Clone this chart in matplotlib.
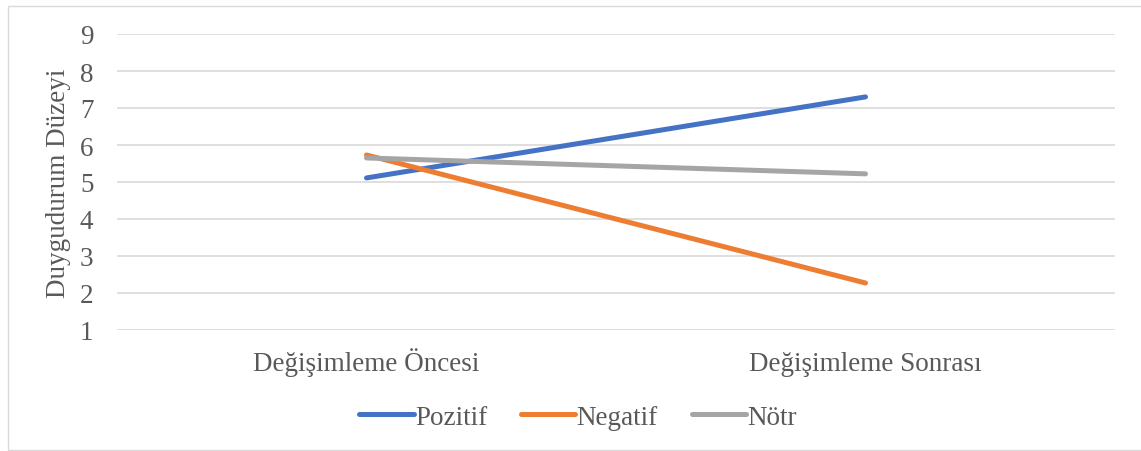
import matplotlib.pyplot as plt
from matplotlib.patches import Rectangle

plt.rcParams["font.family"] = ["Liberation Serif", "DejaVu Serif"]

categories = ["Değişimleme Öncesi", "Değişimleme Sonrası"]
pozitif = [5.11, 7.30]
negatif = [5.73, 2.27]
notr = [5.65, 5.22]
y_ticks = [1, 2, 3, 4, 5, 6, 7, 8, 9]

COLORS = {"Pozitif": "#4472C4", "Negatif": "#ED7D31", "Nötr": "#A5A5A5"}
TEXT = "#595959"
FS = 19.5

fig = plt.figure(figsize=(11.41, 4.52), dpi=100)
ax = fig.add_axes([117 / 1141, 1 - 331 / 452, (1115 - 117) / 1141, (331 - 35) / 452])

x = range(len(categories))
for name, vals in [("Pozitif", pozitif), ("Negatif", negatif), ("Nötr", notr)]:
    ax.plot(x, vals, color=COLORS[name], lw=3.6, solid_capstyle="round", label=name)

ax.set_xlim(-0.5, 1.5)
ax.set_ylim(1, 9)
ax.set_yticks(y_ticks)
ax.set_xticks(list(x))
ax.set_xticklabels(categories)
ax.tick_params(length=0, labelsize=FS, colors=TEXT)
ax.tick_params(axis="x", pad=29)
ax.tick_params(axis="y", pad=17)
# same baseline for both category labels (Ö is taller than S)
for lab in ax.get_xticklabels():
    lab.set_va("baseline")
ax.grid(axis="y", color="#D9D9D9", lw=1.2)
ax.set_axisbelow(True)
for s in ax.spines.values():
    s.set_visible(False)
ax.set_ylabel("Duygudurum Düzeyi", fontsize=FS, color=TEXT, labelpad=6)

ax.legend(loc="center", bbox_to_anchor=(0.462, -0.295), ncol=3, frameon=False,
          fontsize=FS, labelcolor=TEXT, handlelength=2.0, handletextpad=0.05,
          columnspacing=1.25)

fig.patches.append(Rectangle((8 / 1141, 0.002), 1.2, 1 - 8 / 452, transform=fig.transFigure,
                             fill=False, edgecolor="#D9D9D9", lw=1))

fig.savefig("out.png", dpi=100)
